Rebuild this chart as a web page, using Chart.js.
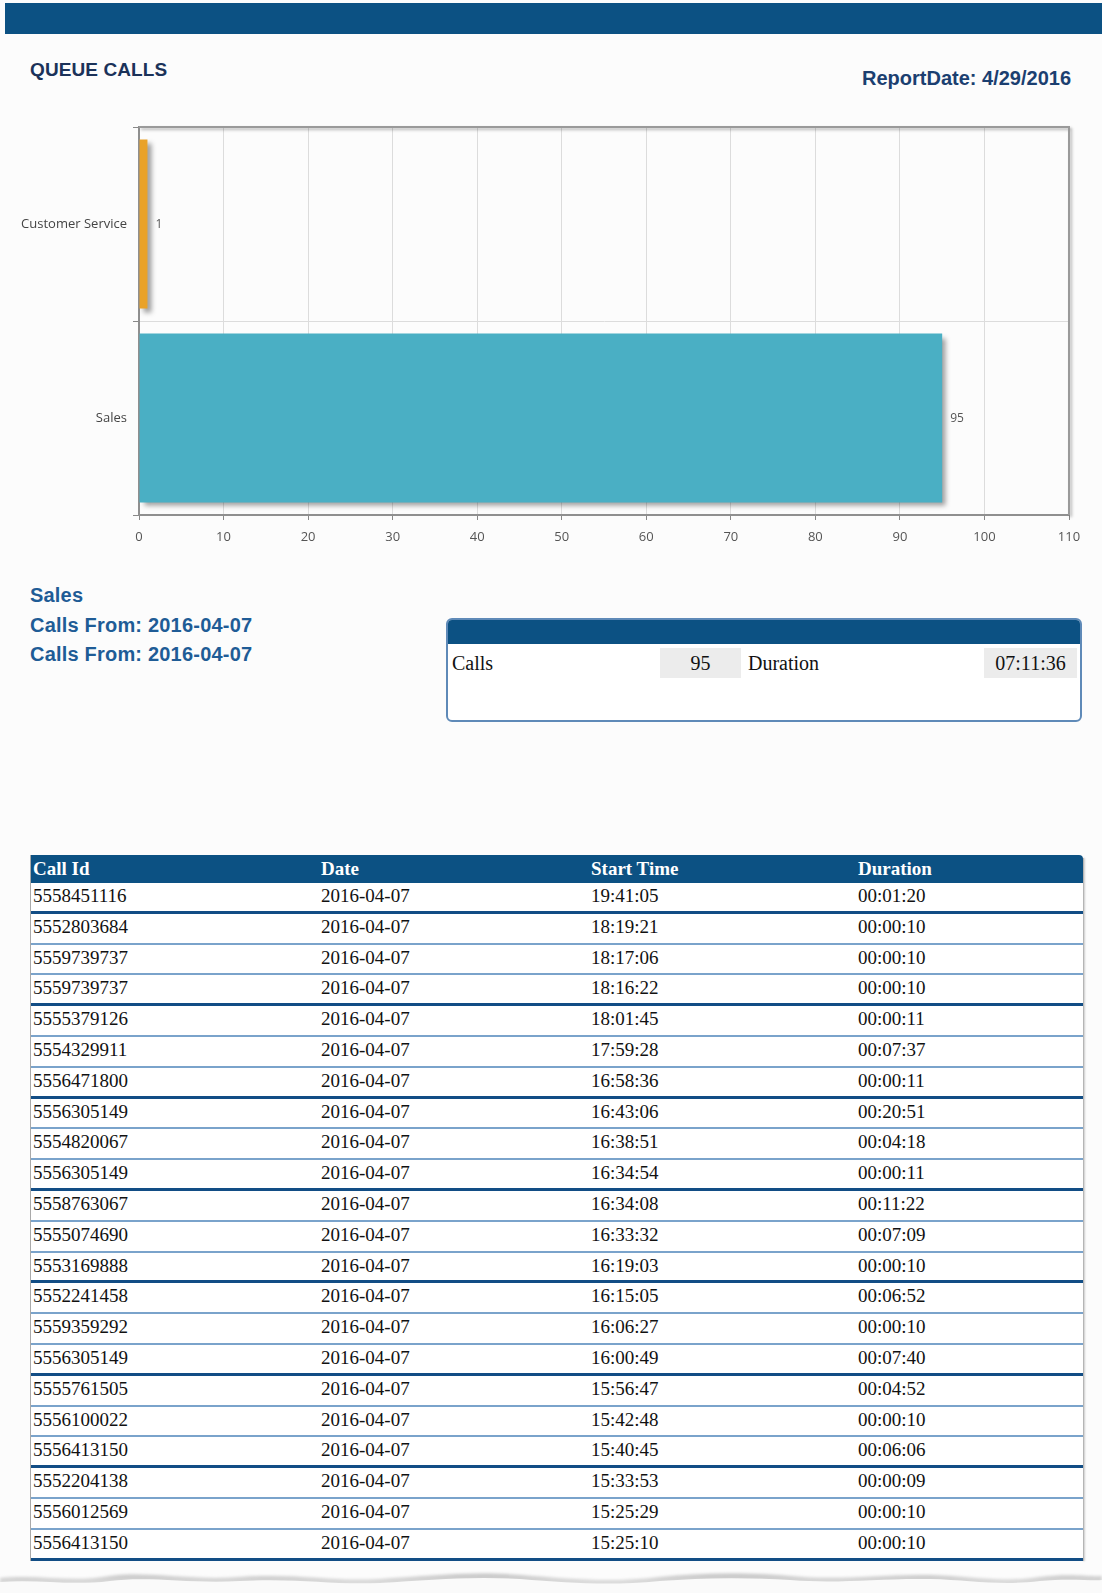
<!DOCTYPE html>
<html>
<head>
<meta charset="utf-8">
<script src="https://cdn.jsdelivr.net/npm/chart.js@4/dist/chart.umd.min.js"></script>
<style>
  html, body { margin: 0; padding: 0; }
  body { width: 1102px; height: 1593px; background: #fcfcfc; position: relative; overflow: hidden; font-family: "Liberation Sans", Arial, sans-serif; }
  .abs { position: absolute; }
  #topbar { left: 5px; top: 3px; width: 1097px; height: 31px; background: #0c5183; }
  #title { left: 30px; top: 58px; font-size: 19px; font-weight: bold; color: #1b3259; letter-spacing: 0.1px; line-height: 24px; }
  #reportDate { right: 31px; top: 66px; font-size: 20px; font-weight: bold; color: #1b3f70; line-height: 24px; white-space: nowrap; }
  #chartBox { left: 0; top: 110px; width: 1102px; height: 440px; }
  .info { left: 30px; font-size: 20px; font-weight: bold; color: #1f5c96; line-height: 24px; white-space: nowrap; letter-spacing: 0.2px; }
  #summary { left: 446px; top: 618px; width: 632px; height: 100px; border: 2px solid #5f8ab8; border-radius: 6px; background: #fff; overflow: hidden; }
  #summaryHead { position: absolute; left: 0; top: 0; right: 0; height: 24px; background: #0c5183; }
  .sv { position: absolute; top: 28px; height: 30px; line-height: 30px; font-family: "Liberation Serif", "Times New Roman", serif; font-size: 20px; color: #111; white-space: nowrap; }
  .cell { background: #ececec; text-align: center; }
  #table { left: 31px; top: 855px; width: 1052px; }
  .thead { position: absolute; left: 0; top: 0; width: 1052px; height: 28px; background: #0c5183; border-top-right-radius: 4px; }
  .th, .td { position: absolute; font-family: "Liberation Serif", "Times New Roman", serif; font-size: 19px; white-space: nowrap; }
  .th { color: #fff; font-weight: bold; line-height: 28px; top: 0; }
  .row { position: absolute; left: 0; width: 1052px; box-sizing: border-box; background: #fff; }
  .td { color: #111; line-height: 26px; top: 0; }
  #tableLeft { left: 30px; top: 855px; width: 2px; background: #a9a9a9; }
  #tableRight { left: 1082px; top: 858px; width: 2px; background: #b5b5b5; box-shadow: 1px 0 2px rgba(0,0,0,0.2); }
</style>
</head>
<body>
<div id="topbar" class="abs"></div>
<div id="title" class="abs">QUEUE CALLS</div>
<div id="reportDate" class="abs">ReportDate: 4/29/2016</div>

<div id="chartBox" class="abs"><canvas id="chart"></canvas></div>

<div class="abs info" style="top:583px;">Sales</div>
<div class="abs info" style="top:613px;">Calls From: 2016-04-07</div>
<div class="abs info" style="top:642px;">Calls From: 2016-04-07</div>

<div id="summary" class="abs">
  <div id="summaryHead"></div>
  <div class="sv" style="left:4px;">Calls</div>
  <div class="sv cell" id="sumCalls" style="left:212px; width:81px;"></div>
  <div class="sv" style="left:300px;">Duration</div>
  <div class="sv cell" id="sumDur" style="left:536px; width:93px;"></div>
</div>

<div id="tableLeft" class="abs"></div>
<div id="tableRight" class="abs"></div>
<div id="table" class="abs"></div>

<svg class="abs" style="left:0; top:1566px;" width="1102" height="27">
  <defs>
    <filter id="blur"><feGaussianBlur stdDeviation="1.5"/></filter>
    <linearGradient id="torn" x1="0" y1="0" x2="0" y2="1">
      <stop offset="0" stop-color="#c4c4c4"/>
      <stop offset="1" stop-color="#f4f4f4"/>
    </linearGradient>
  </defs>
  <path d="M0,12 C40,8 70,17 110,10 C150,5 190,15 240,11 C300,7 330,16 380,13 C430,10 470,5 520,9 C570,13 610,17 660,11 C700,7 740,6 790,10 C840,15 880,8 930,9 C970,10 1000,17 1040,11 C1070,7 1090,11 1102,10 L1102,27 L0,27 Z" fill="url(#torn)" filter="url(#blur)"/>
  <path d="M0,16 C40,13 70,20 110,15 C150,10 190,18 240,15 C300,12 330,19 380,17 C430,14 470,10 520,13 C570,17 610,20 660,15 C700,12 740,11 790,14 C840,18 880,12 930,13 C970,14 1000,20 1040,15 C1070,12 1090,15 1102,14 L1102,27 L0,27 Z" fill="#fafafa"/>
</svg>

<script>
// ---- Chart data ----
const categories = ['Customer Service', 'Sales'];
const callCounts = [1, 95];
const barColors = ['#E9A229', '#4AAFC4'];
const xMin = 0;
const xMax = 110;
const xStep = 10;

// ---- Summary values ----
const summaryCalls = '95';
const summaryDuration = '07:11:36';

// ---- Table data ----
const tableHeaders = ['Call Id', 'Date', 'Start Time', 'Duration'];
const callIds = ['5558451116','5552803684','5559739737','5559739737','5555379126','5554329911','5556471800','5556305149','5554820067','5556305149','5558763067','5555074690','5553169888','5552241458','5559359292','5556305149','5555761505','5556100022','5556413150','5552204138','5556012569','5556413150'];
const callDates = Array(22).fill('2016-04-07');
const startTimes = ['19:41:05','18:19:21','18:17:06','18:16:22','18:01:45','17:59:28','16:58:36','16:43:06','16:38:51','16:34:54','16:34:08','16:33:32','16:19:03','16:15:05','16:06:27','16:00:49','15:56:47','15:42:48','15:40:45','15:33:53','15:25:29','15:25:10'];
const durations = ['00:01:20','00:00:10','00:00:10','00:00:10','00:00:11','00:07:37','00:00:11','00:20:51','00:04:18','00:00:11','00:11:22','00:07:09','00:00:10','00:06:52','00:00:10','00:07:40','00:04:52','00:00:10','00:06:06','00:00:09','00:00:10','00:00:10'];

document.getElementById('sumCalls').textContent = summaryCalls;
document.getElementById('sumDur').textContent = summaryDuration;

// Build table
const colX = [2, 290, 560, 827];
const table = document.getElementById('table');
const head = document.createElement('div');
head.className = 'thead';
tableHeaders.forEach((h, i) => {
  const s = document.createElement('div');
  s.className = 'th';
  s.style.left = colX[i] + 'px';
  s.textContent = h;
  head.appendChild(s);
});
table.appendChild(head);
const rowPitch = 30.8;
const headH = 28;
callIds.forEach((id, r) => {
  const row = document.createElement('div');
  row.className = 'row';
  row.style.top = (headH + r * rowPitch) + 'px';
  row.style.height = rowPitch + 'px';
  if (r % 3 === 0) {
    row.style.borderBottom = '3px solid #124d85';
  } else {
    row.style.borderBottom = '2px solid #7aa3cb';
  }
  [id, callDates[r], startTimes[r], durations[r]].forEach((v, i) => {
    const s = document.createElement('div');
    s.className = 'td';
    s.style.left = colX[i] + 'px';
    s.textContent = v;
    row.appendChild(s);
  });
  table.appendChild(row);
});
const tableH = headH + callIds.length * rowPitch;
document.getElementById('tableLeft').style.height = tableH + 'px';
document.getElementById('tableRight').style.height = (tableH - 3) + 'px';

// ---- Chart plugins ----
const barShadow = {
  id: 'barShadow',
  beforeDatasetsDraw(chart) {
    const ctx = chart.ctx;
    ctx.save();
    ctx.shadowColor = 'rgba(0,0,0,0.38)';
    ctx.shadowOffsetX = 4;
    ctx.shadowOffsetY = 4;
    ctx.shadowBlur = 5;
  },
  afterDatasetsDraw(chart) {
    chart.ctx.restore();
  }
};
const valueLabels = {
  id: 'valueLabels',
  afterDatasetsDraw(chart) {
    const ctx = chart.ctx;
    ctx.save();
    ctx.font = '12px "Open Sans", "Noto Sans", sans-serif';
    ctx.fillStyle = '#555';
    ctx.textBaseline = 'middle';
    ctx.textAlign = 'left';
    chart.data.datasets.forEach((ds, di) => {
      chart.getDatasetMeta(di).data.forEach((bar, i) => {
        ctx.fillText(String(ds.data[i]), bar.x + 8, bar.y + 1);
      });
    });
    ctx.restore();
  }
};
const plotFrame = {
  id: 'plotFrame',
  afterDraw(chart) {
    const a = chart.chartArea;
    const ctx = chart.ctx;
    ctx.save();
    ctx.strokeStyle = '#9a9a9a';
    ctx.lineWidth = 2;
    ctx.shadowColor = 'rgba(0,0,0,0.3)';
    ctx.shadowOffsetX = 2;
    ctx.shadowOffsetY = 2;
    ctx.shadowBlur = 3;
    ctx.beginPath();
    ctx.moveTo(a.left, a.top);
    ctx.lineTo(a.right, a.top);
    ctx.lineTo(a.right, a.bottom);
    ctx.stroke();
    ctx.restore();
  }
};

new Chart(document.getElementById('chart'), {
  type: 'bar',
  data: {
    labels: categories,
    datasets: [{
      data: callCounts,
      backgroundColor: barColors,
      borderWidth: 0,
      categoryPercentage: 1.0,
      barPercentage: 0.87
    }]
  },
  options: {
    indexAxis: 'y',
    responsive: true,
    maintainAspectRatio: false,
    animation: false,
    layout: { padding: { top: 17, right: 33, left: 0, bottom: 0 } },
    plugins: {
      legend: { display: false },
      tooltip: { enabled: false },
      title: { display: false }
    },
    scales: {
      y: {
        afterFit(scale) { scale.width = 139; },
        ticks: { color: '#444', font: { size: 13, family: '"Open Sans", "Noto Sans", sans-serif' }, padding: 6 },
        grid: { color: '#dcdcdc', tickLength: 6, offset: true, tickColor: '#888' },
        border: { color: '#8f8f8f', width: 2 }
      },
      x: {
        min: xMin,
        max: xMax,
        afterFit(scale) { scale.height = 35; },
        ticks: { stepSize: xStep, color: '#555', font: { size: 13, family: '"Open Sans", "Noto Sans", sans-serif' }, padding: 9 },
        grid: { color: '#dcdcdc', tickLength: 5, tickColor: '#888' },
        border: { color: '#8f8f8f', width: 2 }
      }
    }
  },
  plugins: [barShadow, valueLabels, plotFrame]
});
</script>
</body>
</html>
